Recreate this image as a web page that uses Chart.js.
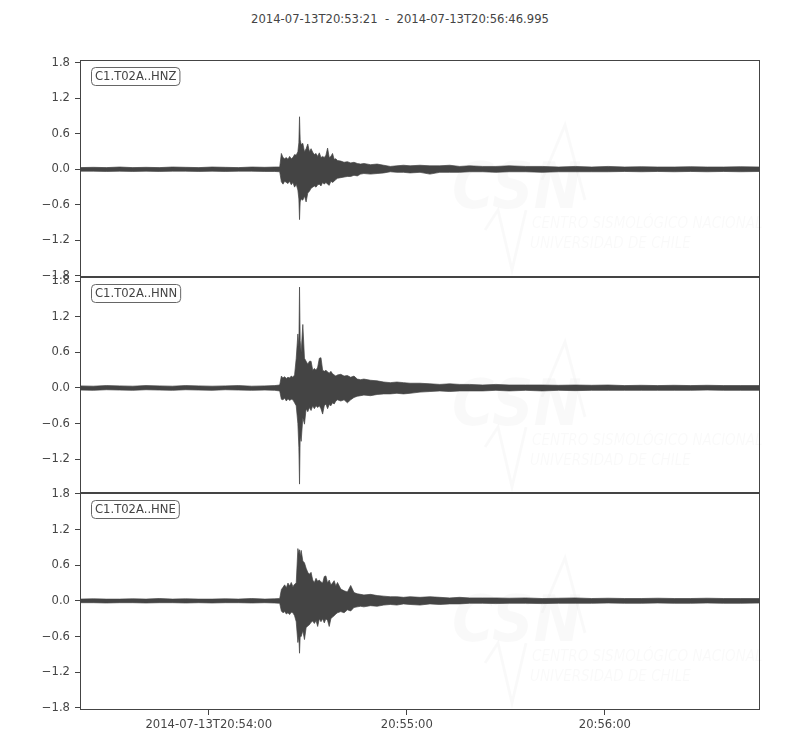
<!DOCTYPE html>
<html>
<head>
<meta charset="utf-8">
<script src="https://cdn.jsdelivr.net/npm/chart.js@4.4.1/dist/chart.umd.min.js"></script>
<style>
  body { margin: 0; background: #fff; }
  #wrap { position: relative; width: 800px; height: 750px; }
  #wrap canvas { position: absolute; left: 0; }
  #title {
    position: absolute; top: 12px; left: 0; width: 800px;
    text-align: center; white-space: pre;
    font: 11.6px 'DejaVu Sans', sans-serif; color: #444;
  }
</style>
</head>
<body>
<div id="wrap">
  <div id="title">2014-07-13T20:53:21  -  2014-07-13T20:56:46.995</div>
  <canvas id="c1" width="800" height="257" style="top:40px"></canvas>
  <canvas id="c2" width="800" height="256" style="top:257px"></canvas>
  <canvas id="c3" width="800" height="277" style="top:473px"></canvas>
</div>
<script>
// seconds after 2014-07-13T20:53:21, envelope of each trace
const times = [0, 4, 8, 12, 16, 20, 24, 28, 32, 36, 40, 44, 48, 52, 56, 59, 60.5,
  61, 61.5, 62, 62.5, 63, 63.5, 64, 64.5, 65, 65.5, 66, 66.3, 66.5, 66.7, 67, 67.5, 68, 68.5, 69, 69.5,
  70, 70.5, 71, 71.5, 72, 72.5, 73, 73.5, 74, 74.5, 75, 75.5, 76, 76.5, 77, 77.5, 78,
  79, 80, 81, 82, 83, 84, 85, 86, 88, 90, 92, 94, 96, 98, 100, 103, 106, 109, 112, 115, 118,
  122, 126, 130, 135, 140, 145, 150, 155, 160, 165, 170, 175, 180, 185, 190, 195, 200, 206];

const hnzHigh = [0.03, 0.035, 0.03, 0.04, 0.03, 0.035, 0.03, 0.04, 0.035, 0.03, 0.04, 0.035, 0.03, 0.04, 0.035, 0.04, 0.04,
  0.27, 0.2, 0.18, 0.2, 0.17, 0.22, 0.18, 0.2, 0.25, 0.24, 0.3, 0.45, 0.89, 0.5, 0.42, 0.44, 0.3, 0.35, 0.43, 0.3,
  0.35, 0.29, 0.25, 0.27, 0.22, 0.28, 0.2, 0.22, 0.2, 0.24, 0.36, 0.2, 0.22, 0.27, 0.17, 0.18, 0.15,
  0.14, 0.12, 0.13, 0.11, 0.12, 0.1, 0.09, 0.1, 0.08, 0.09, 0.07, 0.05, 0.06, 0.07, 0.06, 0.07, 0.06, 0.06, 0.07, 0.05, 0.06,
  0.05, 0.05, 0.06, 0.05, 0.05, 0.04, 0.05, 0.04, 0.05, 0.04, 0.045, 0.04, 0.04, 0.045, 0.04, 0.04, 0.045, 0.04];
const hnzLow = [-0.03, -0.03, -0.035, -0.03, -0.035, -0.03, -0.035, -0.03, -0.03, -0.035, -0.03, -0.035, -0.03, -0.03, -0.035, -0.035, -0.04,
  -0.21, -0.25, -0.2, -0.22, -0.24, -0.2, -0.26, -0.22, -0.3, -0.25, -0.35, -0.5, -0.85, -0.55, -0.5, -0.52, -0.45, -0.55, -0.4, -0.37,
  -0.32, -0.3, -0.28, -0.3, -0.26, -0.25, -0.28, -0.22, -0.25, -0.22, -0.25, -0.27, -0.2, -0.22, -0.2, -0.17, -0.15,
  -0.14, -0.13, -0.12, -0.12, -0.1, -0.11, -0.08, -0.07, -0.08, -0.07, -0.06, -0.04, -0.05, -0.05, -0.06, -0.05, -0.08, -0.05, -0.05, -0.05, -0.04,
  -0.04, -0.05, -0.04, -0.04, -0.05, -0.04, -0.04, -0.04, -0.04, -0.035, -0.04, -0.035, -0.04, -0.035, -0.04, -0.035, -0.04, -0.035];

const hnnHigh = [0.035, 0.03, 0.04, 0.035, 0.03, 0.04, 0.035, 0.03, 0.04, 0.035, 0.03, 0.035, 0.04, 0.03, 0.035, 0.04, 0.05,
  0.2, 0.17, 0.19, 0.16, 0.18, 0.17, 0.2, 0.18, 0.22, 0.5, 0.91, 0.7, 1.7, 0.8, 0.6, 1.07, 0.5, 0.45, 0.4, 0.45,
  0.45, 0.3, 0.33, 0.3, 0.35, 0.5, 0.51, 0.3, 0.28, 0.3, 0.27, 0.25, 0.28, 0.24, 0.22, 0.2, 0.22,
  0.23, 0.2, 0.21, 0.18, 0.2, 0.15, 0.14, 0.15, 0.13, 0.12, 0.1, 0.09, 0.1, 0.09, 0.08, 0.08, 0.07, 0.06, 0.07, 0.06, 0.06,
  0.05, 0.06, 0.05, 0.05, 0.05, 0.045, 0.05, 0.045, 0.05, 0.04, 0.045, 0.04, 0.045, 0.04, 0.045, 0.04, 0.04, 0.04];
const hnnLow = [-0.035, -0.04, -0.03, -0.035, -0.04, -0.03, -0.035, -0.04, -0.03, -0.035, -0.04, -0.03, -0.035, -0.04, -0.035, -0.04, -0.05,
  -0.19, -0.2, -0.17, -0.22, -0.18, -0.21, -0.19, -0.2, -0.25, -0.3, -0.6, -1.0, -1.62, -0.8, -0.9, -0.5, -0.61, -0.35, -0.4, -0.33,
  -0.38, -0.3, -0.35, -0.3, -0.33, -0.3, -0.35, -0.44, -0.3, -0.27, -0.35, -0.28, -0.3, -0.25, -0.27, -0.22, -0.2,
  -0.22, -0.2, -0.25, -0.2, -0.16, -0.14, -0.13, -0.12, -0.13, -0.11, -0.1, -0.1, -0.09, -0.1, -0.09, -0.07, -0.06, -0.05, -0.06, -0.05, -0.05,
  -0.05, -0.04, -0.05, -0.04, -0.05, -0.04, -0.045, -0.04, -0.04, -0.04, -0.04, -0.04, -0.04, -0.04, -0.035, -0.04, -0.04, -0.04];

const hneHigh = [0.03, 0.035, 0.03, 0.03, 0.035, 0.03, 0.04, 0.03, 0.035, 0.03, 0.03, 0.035, 0.03, 0.04, 0.03, 0.035, 0.04,
  0.19, 0.23, 0.27, 0.22, 0.3, 0.25, 0.31, 0.24, 0.28, 0.3, 0.88, 0.8, 0.86, 0.75, 0.85, 0.67, 0.64, 0.55, 0.48, 0.45,
  0.48, 0.35, 0.31, 0.38, 0.33, 0.35, 0.32, 0.3, 0.41, 0.42, 0.3, 0.35, 0.27, 0.3, 0.34, 0.25, 0.31,
  0.2, 0.17, 0.15, 0.26, 0.14, 0.12, 0.11, 0.1, 0.11, 0.09, 0.08, 0.07, 0.07, 0.06, 0.07, 0.06, 0.07, 0.06, 0.05, 0.06, 0.05,
  0.05, 0.05, 0.045, 0.05, 0.04, 0.045, 0.05, 0.04, 0.045, 0.04, 0.04, 0.045, 0.04, 0.04, 0.045, 0.04, 0.04, 0.04];
const hneLow = [-0.03, -0.03, -0.035, -0.03, -0.03, -0.035, -0.03, -0.03, -0.035, -0.03, -0.035, -0.03, -0.03, -0.035, -0.03, -0.035, -0.04,
  -0.17, -0.2, -0.18, -0.22, -0.2, -0.23, -0.19, -0.2, -0.25, -0.35, -0.7, -0.6, -0.88, -0.6, -0.6, -0.5, -0.65, -0.45, -0.42, -0.4,
  -0.36, -0.34, -0.38, -0.33, -0.43, -0.3, -0.35, -0.3, -0.37, -0.3, -0.33, -0.43, -0.3, -0.27, -0.25, -0.22, -0.2,
  -0.18, -0.2, -0.15, -0.17, -0.11, -0.1, -0.09, -0.1, -0.08, -0.09, -0.07, -0.06, -0.07, -0.05, -0.06, -0.07, -0.05, -0.06, -0.05, -0.05, -0.04,
  -0.04, -0.045, -0.04, -0.04, -0.045, -0.04, -0.04, -0.04, -0.035, -0.04, -0.04, -0.035, -0.04, -0.04, -0.035, -0.04, -0.04, -0.035];

const traceIds = ['C1.T02A..HNZ', 'C1.T02A..HNN', 'C1.T02A..HNE'];
// y limits of each panel (each trace is centred on its own mean)
const yLimits = [[-1.82, 1.85], [-1.77, 1.87], [-1.835, 1.815]];
const yTicks = [-1.8, -1.2, -0.6, 0, 0.6, 1.2, 1.8];
const xTicks = [39, 99, 159];
const xTickLabels = ['2014-07-13T20:54:00', '20:55:00', '20:56:00'];

const INK = '#444444';
const FONT = { family: "'DejaVu Sans', sans-serif", size: 11.6 };
const T_END = 205.995;

const fmtY = v => (v < 0 ? '\u2212' : '') + Math.abs(v).toFixed(1);

// frame, trace id box and faint CSN watermark
const panelDeco = {
  id: 'panelDeco',
  beforeDatasetsDraw(chart) {
    const { ctx, chartArea: a } = chart;
    ctx.save();
    ctx.fillStyle = 'rgba(0,0,0,0.025)';
    ctx.strokeStyle = 'rgba(0,0,0,0.025)';
    ctx.font = "italic bold 64px 'DejaVu Sans Condensed', 'DejaVu Sans'";
    ctx.fillText('CSN', a.left + 372, a.top + 148);
    ctx.font = "italic 15px 'DejaVu Sans Condensed', 'DejaVu Sans'";
    ctx.fillText('CENTRO SISMOLÓGICO NACIONAL', a.left + 452, a.top + 168);
    ctx.fillText('UNIVERSIDAD DE CHILE', a.left + 450, a.top + 188);
    ctx.lineWidth = 3;
    ctx.beginPath();
    ctx.moveTo(a.left + 462, a.top + 120);
    ctx.lineTo(a.left + 485, a.top + 65);
    ctx.lineTo(a.left + 505, a.top + 140);
    ctx.moveTo(a.left + 405, a.top + 170);
    ctx.lineTo(a.left + 418, a.top + 150);
    ctx.lineTo(a.left + 432, a.top + 210);
    ctx.lineTo(a.left + 446, a.top + 150);
    ctx.stroke();
    ctx.restore();
  },
  afterDraw(chart, args, opts) {
    const { ctx, chartArea: a } = chart;
    ctx.save();
    ctx.strokeStyle = INK;
    ctx.lineWidth = 1;
    ctx.strokeRect(Math.round(a.left) + 0.5, Math.round(a.top) + 0.5,
      Math.round(a.width) - 1, Math.round(a.height) - 1);

    ctx.font = `${FONT.size}px ${FONT.family}`;
    const w = ctx.measureText(opts.label).width + 7;
    const x = a.left + 11.5, y = a.top + 7.5, h = 18;
    ctx.beginPath();
    ctx.roundRect(x, y, w, h, 4);
    ctx.fillStyle = '#fff';
    ctx.fill();
    ctx.strokeStyle = '#666';
    ctx.stroke();
    ctx.fillStyle = INK;
    ctx.textBaseline = 'middle';
    ctx.fillText(opts.label, x + 3.5, y + h / 2 + 0.5);
    ctx.restore();
  }
};

function makePanel(id, idx, high, low, showX) {
  const upper = times.map((t, i) => ({ x: t, y: high[i] }));
  const lower = times.map((t, i) => ({ x: t, y: low[i] }));
  const [yMin, yMax] = yLimits[idx];
  return new Chart(document.getElementById(id), {
    type: 'line',
    data: {
      datasets: [
        { data: upper, borderColor: INK, backgroundColor: INK, borderWidth: 0.7, pointRadius: 0, fill: '+1', tension: 0 },
        { data: lower, borderColor: INK, backgroundColor: INK, borderWidth: 0.7, pointRadius: 0, fill: false, tension: 0 }
      ]
    },
    options: {
      responsive: false,
      animation: false,
      layout: { padding: { left: 0, right: 40, top: 20, bottom: showX ? 0 : 20 } },
      plugins: {
        legend: { display: false },
        tooltip: { enabled: false },
        panelDeco: { label: traceIds[idx] }
      },
      scales: {
        x: {
          type: 'linear',
          display: showX,
          min: 0,
          max: T_END,
          afterBuildTicks: s => { s.ticks = xTicks.map(v => ({ value: v })); },
          afterFit: s => { s.height = showX ? 40 : 0; },
          grid: { drawOnChartArea: false, drawTicks: true, tickLength: 5, color: INK },
          border: { display: false },
          ticks: {
            color: INK, font: FONT, padding: 3, maxRotation: 0, autoSkip: false,
            callback: v => xTickLabels[xTicks.indexOf(v)]
          }
        },
        y: {
          min: yMin,
          max: yMax,
          afterBuildTicks: s => {
            s.ticks = yTicks.filter(v => v >= yMin && v <= yMax).map(v => ({ value: v }));
          },
          afterFit: s => { s.width = 80; },
          grid: { drawOnChartArea: false, drawTicks: true, tickLength: 5, color: INK },
          border: { display: false },
          ticks: { color: INK, font: FONT, padding: 5, callback: v => fmtY(v) }
        }
      }
    },
    plugins: [panelDeco]
  });
}

makePanel('c1', 0, hnzHigh, hnzLow, false);
makePanel('c2', 1, hnnHigh, hnnLow, false);
makePanel('c3', 2, hneHigh, hneLow, true);
</script>
</body>
</html>
